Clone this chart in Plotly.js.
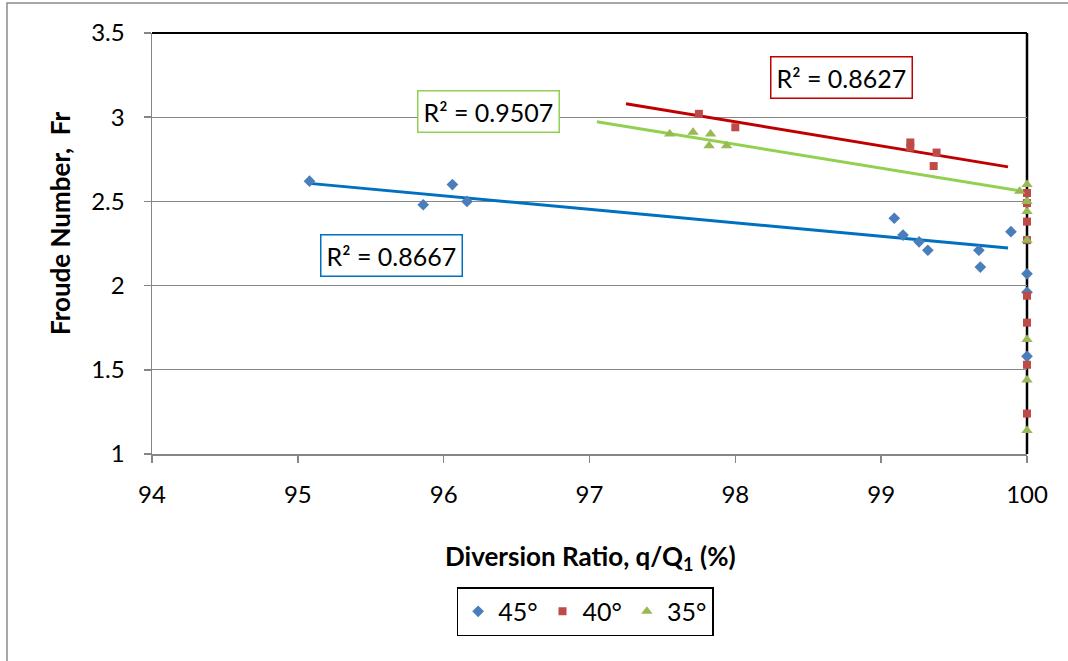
<!DOCTYPE html>
<html>
<head>
<meta charset="utf-8">
<script src="https://cdn.plot.ly/plotly-3.0.1.min.js"></script>
<style>html,body{margin:0;padding:0;background:#fff;}#chart{width:1068px;height:661px;}</style>
</head>
<body>
<div id="chart"></div>
<script>
// Data
const x45 = [95.08, 95.86, 96.06, 96.16, 99.09, 99.15, 99.26, 99.32, 99.67, 99.68, 99.89, 100, 100, 100];
const y45 = [2.62, 2.48, 2.60, 2.50, 2.40, 2.30, 2.26, 2.21, 2.21, 2.11, 2.32, 2.07, 1.96, 1.58];
const x40 = [97.75, 98.00, 99.20, 99.20, 99.38, 99.36, 100, 100, 100, 100, 100, 100, 100, 100];
const y40 = [3.02, 2.94, 2.85, 2.82, 2.79, 2.71, 2.55, 2.49, 2.38, 2.27, 1.94, 1.78, 1.53, 1.24];
const x35 = [97.55, 97.71, 97.83, 97.82, 97.94, 99.95, 100, 100, 100, 100, 100, 100, 100];
const y35 = [2.90, 2.91, 2.90, 2.83, 2.83, 2.56, 2.60, 2.50, 2.44, 2.27, 1.68, 1.44, 1.14];
// Trendline end points
const trendX45 = [95.08, 99.87], trendY45 = [2.607, 2.223];
const trendX40 = [97.25, 99.87], trendY40 = [3.080, 2.705];
const trendX35 = [97.05, 99.96], trendY35 = [2.973, 2.562];
const r2Labels = ["R² = 0.8667", "R² = 0.8627", "R² = 0.9507"];
const seriesNames = ["45°", "40°", "35°"];
const xTicks = [94, 95, 96, 97, 98, 99, 100];
const yTicks = [1, 1.5, 2, 2.5, 3, 3.5];

const FONT = "Lato, 'Open Sans', sans-serif";
const grey = "#868686";

const traces = [
  {x: trendX45, y: trendY45, mode: "lines", line: {color: "#0070C0", width: 3}, showlegend: false, hoverinfo: "skip"},
  {x: trendX40, y: trendY40, mode: "lines", line: {color: "#C00000", width: 3}, showlegend: false, hoverinfo: "skip"},
  {x: trendX35, y: trendY35, mode: "lines", line: {color: "#92D050", width: 3}, showlegend: false, hoverinfo: "skip"},
  {x: x45, y: y45, name: seriesNames[0], mode: "markers", cliponaxis: false, marker: {symbol: "diamond", size: 9, color: "#4A7EBB"}},
  {x: x40, y: y40, name: seriesNames[1], mode: "markers", cliponaxis: false, marker: {symbol: "square", size: 8, color: "#BE4B48"}},
  {x: x35, y: y35, name: seriesNames[2], mode: "markers", cliponaxis: false, marker: {symbol: "triangle-up", size: 10, color: "#98B954"}}
];

const layout = {
  width: 1068, height: 661,
  margin: {l: 152, r: 41, t: 33, b: 207},
  paper_bgcolor: "#fff", plot_bgcolor: "#fff",
  font: {family: FONT, size: 24, color: "#000"},
  showlegend: true,
  legend: {
    orientation: "h", x: 0.495, xanchor: "center", y: -0.316, yanchor: "top",
    bordercolor: "#000", borderwidth: 1.5, bgcolor: "#fff",
    font: {family: FONT, size: 25}, itemwidth: 30, tracegroupgap: 0
  },
  xaxis: {
    range: [94, 100], tickmode: "array", tickvals: xTicks,
    showgrid: false, zeroline: false,
    showline: true, linecolor: grey, linewidth: 1.5,
    ticks: "outside", ticklen: 7, tickcolor: grey, tickwidth: 1.5,
    ticklabelstandoff: 12,
    tickfont: {family: FONT, size: 24}
  },
  yaxis: {
    range: [1, 3.5], tickmode: "array", tickvals: yTicks,
    showgrid: true, gridcolor: grey, gridwidth: 1.2, zeroline: false,
    showline: true, linecolor: grey, linewidth: 1.5,
    ticks: "outside", ticklen: 7, tickcolor: grey, tickwidth: 1.5,
    ticklabelstandoff: 14,
    tickfont: {family: FONT, size: 24}
  },
  shapes: [
    {type: "line", xref: "paper", yref: "paper", x0: 0, x1: 1, y0: 1, y1: 1, line: {color: "#000", width: 2}, layer: "between"},
    {type: "line", xref: "paper", yref: "paper", x0: 1, x1: 1, y0: 0, y1: 1, line: {color: "#000", width: 2.5}, layer: "between"},
    {type: "rect", xref: "paper", yref: "paper",
     x0: (7 - 152) / 875, x1: (1080 - 152) / 875, y0: (454 - 675) / 421, y1: (454 - 3) / 421,
     line: {color: "#8c8c8c", width: 1.5}, layer: "below"}
  ],
  annotations: [
    {text: "<b>Diversion Ratio, q/Q<sub>1</sub> (%)</b>", xref: "paper", yref: "paper",
     x: (590 - 152) / 875, y: (454 - 557) / 421, xanchor: "center", yanchor: "middle",
     showarrow: false, font: {family: FONT, size: 26}},
    {text: "<b>Froude Number,  Fr</b>", xref: "paper", yref: "paper",
     x: (60 - 152) / 875, y: (454 - 224) / 421, xanchor: "center", yanchor: "middle",
     textangle: -90, showarrow: false, font: {family: FONT, size: 26}},
    {text: r2Labels[0], x: 95.64, y: 2.18, showarrow: false, bgcolor: "#fff",
     bordercolor: "#0070C0", borderwidth: 1.5, borderpad: 5, font: {family: FONT, size: 25}},
    {text: r2Labels[1], x: 98.73, y: 3.237, showarrow: false, bgcolor: "#fff",
     bordercolor: "#C00000", borderwidth: 1.5, borderpad: 5, font: {family: FONT, size: 25}},
    {text: r2Labels[2], x: 96.31, y: 3.031, showarrow: false, bgcolor: "#fff",
     bordercolor: "#92D050", borderwidth: 1.5, borderpad: 5, font: {family: FONT, size: 25}}
  ]
};

Plotly.newPlot("chart", traces, layout, {displayModeBar: false, staticPlot: true});
</script>
</body>
</html>
